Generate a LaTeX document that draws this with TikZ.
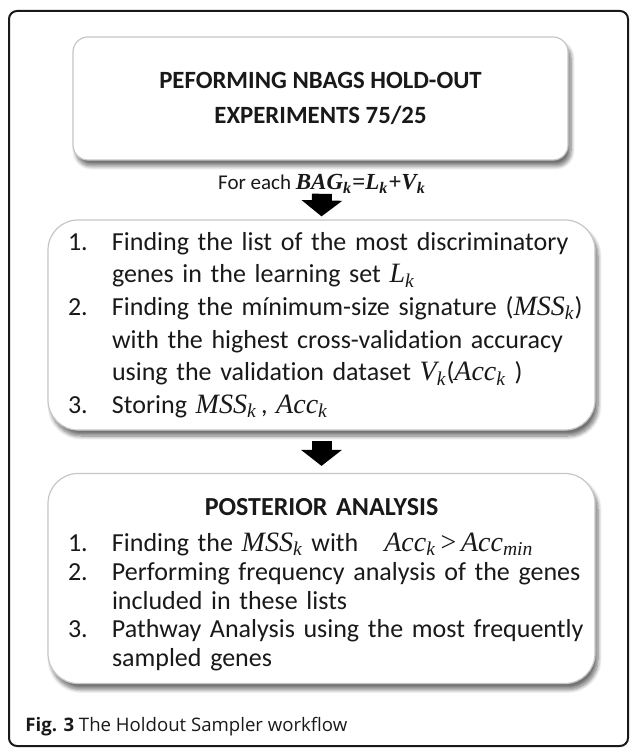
\documentclass[tikz,border=0pt]{standalone}
\usepackage{fontspec}
\setmainfont{Carlito}[Ligatures=NoCommon]
\newfontfamily\tnr{Liberation Serif}
\newfontfamily\capfont{Open Sans}
\usetikzlibrary{arrows.meta,positioning,shadows.blur}
\newcommand{\gvar}[2]{{\tnr\itshape\fontsize{14pt}{14pt}\selectfont #1\textsubscript{#2}}}
\newcommand{\itemno}[1]{\makebox[22pt][l]{#1}}
\tikzset{
wf_box/.style = {draw=gray!45, fill=white, line width=0.6pt, rounded corners=15pt, inner xsep=10pt, inner ysep=0pt,
  blur shadow={shadow xshift=1.5pt, shadow yshift=-3pt, shadow blur steps=8, shadow opacity=55}},% boite du flux
wf_head/.style = {wf_box, rounded corners=7.5pt, align=center, minimum width=247.5pt, minimum height=61.5pt,
  font=\bfseries\fontsize{12.4pt}{17.5pt}\selectfont},% boite du titre
wf_list/.style = {wf_box, align=left, text width=253.5pt, minimum height=105pt},% boite avec liste
wf_arrow/.style = {line width=10pt, -{Triangle[width=20pt,length=8pt]}},% grosse fleche
frame/.style = {draw=black!90, line width=1pt, rounded corners=4pt}
}
\begin{document}
\begin{tikzpicture}[x=0.5pt, y=-0.5pt, text=black!90]
  \useasboundingbox (0,0) rectangle (630,748);
  \draw[frame] (9,11) rectangle (628,746);

  \node [wf_head] (bags) at (320.5,98.5) {PEFORMING NBAGS HOLD-OUT\\EXPERIMENTS 75/25};
  \node [inner sep=0pt, font=\fontsize{10.5pt}{12pt}\selectfont] (each) at (322,184)
    {For each {\tnr\bfseries\itshape\fontsize{11.5pt}{12pt}\selectfont BAG\textsubscript{k}=L\textsubscript{k}+V\textsubscript{k}}};

  \node [wf_list, font=\fontsize{13pt}{16.3pt}\selectfont] (work) at (321.5,325) {%
    \mbox{\itemno{1.}Finding the list of the most discriminatory}\\
    \mbox{\itemno{}genes in the learning set \gvar{L}{k}}\\
    \mbox{\itemno{2.}Finding the mínimum-size signature (\gvar{MSS}{k})}\\
    \mbox{\itemno{}with the highest cross-validation accuracy}\\
    \mbox{\itemno{}using the validation dataset \gvar{V}{k}(\gvar{Acc}{k} )}\\
    \mbox{\itemno{3.}Storing \gvar{MSS}{k}\,, \gvar{Acc}{k}}};

  \node [wf_list, font=\fontsize{13pt}{14.4pt}\selectfont] (post) at (321.5,578.5) {%
    \makebox[253.5pt][c]{\rule{0pt}{15pt}\bfseries POSTERIOR ANALYSIS}\\[3.5pt]
    \mbox{\itemno{1.}Finding the \gvar{MSS}{k} with\quad \gvar{Acc}{k}{\tnr\fontsize{14pt}{14pt}\selectfont\,>\,}\gvar{Acc}{min}}\\
    \mbox{\itemno{2.}Performing frequency analysis of the genes}\\
    \mbox{\itemno{}included in these lists}\\
    \mbox{\itemno{3.}Pathway Analysis using the most frequently}\\
    \mbox{\itemno{}sampled genes}};

  \draw [wf_arrow, shorten <=0pt, shorten >=1.5pt] (each.south) -- (work.north);
  \draw [wf_arrow, shorten <=5pt, shorten >=3.5pt] (work.south) -- (post.north);

  \node [anchor=west, inner sep=0pt, font=\capfont\fontsize{9.3pt}{11pt}\selectfont] (cap) at (25,727)
    {\textbf{Fig. 3} The Holdout Sampler workflow};
\end{tikzpicture}
\end{document}
